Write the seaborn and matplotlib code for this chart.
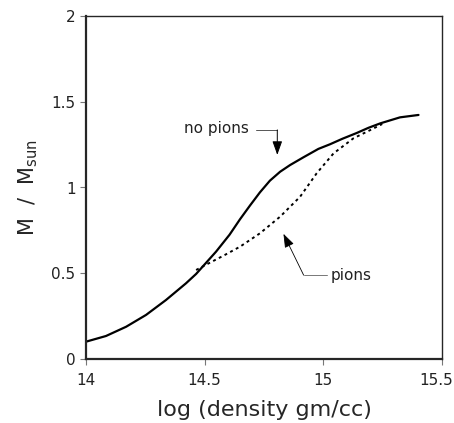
import matplotlib
matplotlib.use("Agg")
import matplotlib.pyplot as plt
import matplotlib.transforms as mtransforms
import pandas as pd
import seaborn as sns

no_pions_x = [14.0, 14.084, 14.169, 14.253, 14.337, 14.421, 14.464, 14.548, 14.605,
              14.649, 14.691, 14.733, 14.775, 14.818, 14.86, 14.916, 14.979, 15.028,
              15.08, 15.141, 15.19, 15.24, 15.323, 15.401]
no_pions_y = [0.101, 0.134, 0.188, 0.257, 0.344, 0.441, 0.496, 0.626, 0.725,
              0.815, 0.895, 0.972, 1.040, 1.092, 1.131, 1.176, 1.225, 1.252,
              1.284, 1.318, 1.348, 1.374, 1.409, 1.423]

pions_x = [14.464, 14.52, 14.58, 14.649, 14.733, 14.818, 14.902, 14.972, 15.043,
           15.127, 15.198, 15.248]
pions_y = [0.519, 0.56, 0.603, 0.655, 0.733, 0.83, 0.946, 1.083, 1.199,
           1.287, 1.335, 1.37]

x_ticks = [14, 14.5, 15, 15.5]
x_tick_labels = ["14", "14.5", "15", "15.5"]
y_ticks = [0, 0.5, 1, 1.5, 2]
y_tick_labels = ["0", "0.5", "1", "1.5", "2"]

sns.set_theme(style="ticks")
plt.rcParams["font.family"] = ["DejaVu Sans"]

df_np = pd.DataFrame({"x": no_pions_x, "y": no_pions_y})
df_p = pd.DataFrame({"x": pions_x, "y": pions_y})

fig = plt.figure(figsize=(4.54, 4.23), dpi=100)
ax = fig.add_axes([86 / 454, 1 - 359 / 423, (442 - 86) / 454, (359 - 16) / 423])

sns.lineplot(data=df_np, x="x", y="y", color="black", lw=1.6, ax=ax)
sns.lineplot(data=df_p, x="x", y="y", color="black", lw=1.4, ls=(0, (1.5, 1.8)), ax=ax)

ax.set_xlim(14, 15.5)
ax.set_ylim(0, 2)
ax.set_xticks(x_ticks)
ax.set_xticklabels(x_tick_labels)
ax.set_yticks(y_ticks)
ax.set_yticklabels(y_tick_labels)
ax.tick_params(axis="both", labelsize=11, length=4, width=0.8, color="#777777",
               labelcolor="#222222", direction="out")
ax.tick_params(axis="x", pad=6)
ax.set_xlabel("log (density gm/cc)", fontsize=16, labelpad=9)
ax.set_ylabel(r"M  /  M$_{\rm sun}$", fontsize=15, labelpad=8)

# keep the last x tick label inside the figure
last = ax.get_xticklabels()[-1]
last.set_transform(last.get_transform() + mtransforms.ScaledTranslation(-6 / 100, 0, fig.dpi_scale_trans))

for side in ["left", "bottom"]:
    ax.spines[side].set_linewidth(1.6)
for side in ["top", "right"]:
    ax.spines[side].set_linewidth(1.0)
    ax.spines[side].set_visible(True)

# "no pions" label with elbow arrow
ax.text(14.415, 1.344, "no pions", fontsize=11, ha="left", va="center", color="#222222")
ax.plot([14.715, 14.806], [1.335, 1.335], color="#555555", lw=0.7)
ax.annotate("", xy=(14.806, 1.19), xytext=(14.806, 1.336),
            arrowprops=dict(arrowstyle="-|>,head_length=0.7,head_width=0.25",
                            color="black", lw=0.7, shrinkA=0, shrinkB=0))

# "pions" label with elbow arrow
ax.text(15.03, 0.487, "pions", fontsize=11, ha="left", va="center", color="#222222")
ax.plot([15.015, 14.917], [0.489, 0.489], color="#777777", lw=0.7)
ax.annotate("", xy=(14.832, 0.73), xytext=(14.917, 0.489),
            arrowprops=dict(arrowstyle="-|>,head_length=0.7,head_width=0.25",
                            color="black", lw=0.6, shrinkA=0, shrinkB=0))

fig.savefig("out.png", dpi=100)
